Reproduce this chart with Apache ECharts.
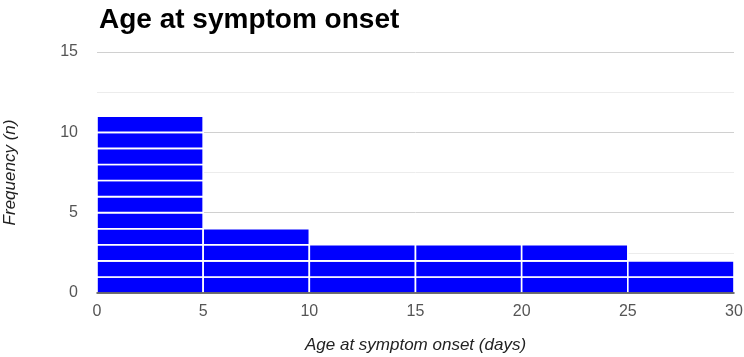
<!DOCTYPE html>
<html><head><meta charset="utf-8">
<script src="https://cdn.jsdelivr.net/npm/echarts@6/dist/echarts.min.js"></script>
<style>html,body{margin:0;padding:0;background:#fff}#c{width:744px;height:357px}</style>
</head><body><div id="c"></div>
<script>
var binStarts = [0, 5, 10, 15, 20, 25];
var binEnds = [5, 10, 15, 20, 25, 30];
var counts = [11, 4, 3, 3, 3, 2];
var xTicks = [0, 5, 10, 15, 20, 25, 30];
var yTicks = [0, 5, 10, 15];

var blocks = [];
for (var i = 0; i < counts.length; i++) {
  for (var j = 0; j < counts[i]; j++) {
    blocks.push([binStarts[i], binEnds[i], j, j + 1]);
  }
}
var chart = echarts.init(document.getElementById('c'));
chart.setOption({
  animation: false,
  title: {text: 'Age at symptom onset', left: 94, top: 1,
    textStyle: {fontFamily: 'Liberation Sans', fontWeight: 'bold', fontSize: 28, color: '#000'}},
  grid: {left: 97, right: 10, top: 52, bottom: 64, outerBoundsMode: 'none', containLabel: false},
  xAxis: {type: 'value', min: 0, max: 30, interval: 5, z: 10,
    name: 'Age at symptom onset (days)', nameLocation: 'middle', nameGap: 44,
    nameTextStyle: {fontFamily: 'Liberation Sans', fontStyle: 'italic', fontSize: 17, color: '#222'},
    axisLine: {show: true, lineStyle: {color: '#444', width: 1.5}},
    axisTick: {show: false}, splitLine: {show: false},
    axisLabel: {fontFamily: 'Liberation Sans', fontSize: 16, color: '#555', margin: 11,
      formatter: function (v) { return xTicks.indexOf(v) >= 0 ? String(v) : ''; }}},
  yAxis: {type: 'value', min: 0, max: 15, interval: 5,
    name: 'Frequency (n)', nameLocation: 'middle', nameGap: 78,
    nameTextStyle: {fontFamily: 'Liberation Sans', fontStyle: 'italic', fontSize: 17, color: '#222'},
    axisLine: {show: false}, axisTick: {show: false},
    axisLabel: {fontFamily: 'Liberation Sans', fontSize: 16, color: '#555', margin: 19,
      formatter: function (v) { return yTicks.indexOf(v) >= 0 ? String(v) : ''; }},
    splitLine: {show: true, lineStyle: {color: '#d0d0d0', width: 1}},
    minorTick: {show: false, splitNumber: 2},
    minorSplitLine: {show: true, lineStyle: {color: '#ececec', width: 1}}},
  series: [{
    type: 'custom', z: 2,
    renderItem: function (params, api) {
      var p0 = api.coord([api.value(0), api.value(2)]);
      var p1 = api.coord([api.value(1), api.value(3)]);
      return {type: 'rect',
        shape: {x: p0[0], y: p1[1], width: p1[0] - p0[0], height: p0[1] - p1[1]},
        style: {fill: '#0000ff', stroke: '#ffffff', lineWidth: 1.6}};
    },
    encode: {x: [0, 1], y: [2, 3]},
    data: blocks
  }]
});
</script></body></html>
